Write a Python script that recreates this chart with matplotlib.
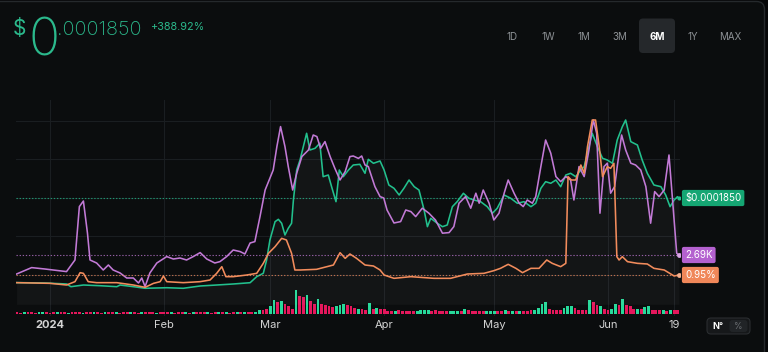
import numpy as np
import pandas as pd
import matplotlib
matplotlib.use("Agg")
import matplotlib.pyplot as plt
from matplotlib.patches import FancyBboxPatch

plt.rcParams['font.family'] = ['Inter', 'DejaVu Sans']

# ---------------- data ----------------
BASE = "2024-01-01"  # day offsets below are relative to this date

# green: token price, in millionths of a dollar
price_days = [-9.1, -1.4, 4.5, 5.7, 9.1, 13.6, 18.2, 19.1, 22.7, 25.9,
              31.8, 36.3, 40.9, 45.4, 50.0, 54.5, 56.3, 58.1, 59.0, 59.9,
              61.3, 62.2, 63.1, 64.0, 64.9, 65.8, 66.3, 67.2, 68.1, 69.0,
              69.9, 70.8, 72.2, 73.5, 74.4, 75.8, 76.7, 77.9, 78.8, 79.9,
              81.3, 82.6, 84.4, 85.8, 86.7, 88.1, 89.9, 91.0, 92.3, 93.7,
              95.1, 96.4, 97.8, 99.2, 100.5, 101.9, 102.8, 103.7, 105.5, 106.9,
              108.2, 109.6, 110.9, 112.6, 114.1, 115.5, 117.3, 119.1, 120.5, 121.8,
              123.7, 125.5, 127.3, 129.1, 131.0, 132.3, 133.7, 135.0, 136.4, 137.8,
              139.1, 140.5, 141.8, 143.2, 144.6, 145.5, 146.8, 147.7, 149.1, 150.5,
              151.8, 153.2, 154.5, 155.9, 156.8, 158.2, 160.0, 161.3, 162.7, 164.5,
              166.4, 167.7, 168.9, 170.0, 170.9, 171.3]
price_musd = [37.8, 37.1, 35.4, 30.7, 33.6, 32.4, 30.7, 33.6, 30.7, 27.9,
              28.9, 27.9, 31.9, 33.6, 35.4, 37.6, 48.1, 54.0, 77.1, 111.9,
              143.8, 147.9, 141.0, 120.6, 132.3, 141.0, 181.5, 233.7, 251.1, 274.3,
              297.6, 268.5, 271.5, 280.2, 222.1, 225.0, 204.7, 178.6, 233.7, 222.1,
              233.7, 242.4, 243.6, 228.0, 252.3, 245.4, 249.4, 233.7, 207.6, 201.9,
              190.2, 201.9, 216.3, 204.7, 198.9, 164.1, 135.1, 149.7, 141.0, 135.1,
              138.0, 169.9, 178.6, 193.2, 184.5, 181.5, 178.6, 169.9, 158.4, 167.1,
              190.2, 184.5, 175.8, 178.6, 169.9, 175.8, 201.9, 213.4, 210.6, 216.3,
              204.7, 225.0, 228.0, 222.1, 233.7, 239.5, 274.3, 297.6, 274.3, 254.1,
              251.1, 245.4, 285.9, 309.1, 320.7, 283.0, 277.2, 251.1, 228.0, 207.6,
              204.7, 190.2, 169.9, 181.5, 187.3, 185.0]

# purple: second metric, in thousands
metric_days = [-9.1, -5.0, -1.4, 4.5, 6.8, 8.0, 9.1, 10.2, 10.9, 12.7,
               14.5, 15.9, 17.2, 19.1, 20.9, 22.7, 24.1, 25.0, 25.9, 27.2,
               29.1, 31.8, 33.6, 35.4, 37.2, 39.0, 40.9, 42.7, 44.9, 46.3,
               48.1, 49.9, 51.8, 53.1, 54.5, 55.8, 57.2, 58.6, 59.7, 60.8,
               61.8, 62.8, 64.0, 64.9, 66.1, 67.2, 68.6, 70.4, 71.7, 72.7,
               73.7, 74.9, 76.3, 77.6, 79.0, 80.4, 81.7, 82.6, 84.0, 84.9,
               85.8, 86.7, 88.5, 89.9, 90.9, 91.8, 93.7, 95.5, 96.9, 98.3,
               99.6, 101.4, 103.2, 105.0, 106.9, 108.7, 110.0, 111.4, 113.2, 114.6,
               116.0, 116.9, 118.0, 119.6, 120.9, 122.3, 123.7, 124.8, 126.4, 127.8,
               128.9, 130.0, 131.4, 132.3, 133.7, 135.0, 136.4, 137.8, 139.1, 140.5,
               141.8, 142.7, 144.1, 145.5, 146.8, 148.0, 148.9, 149.8, 150.9, 151.8,
               152.7, 153.8, 154.5, 155.7, 156.8, 158.2, 159.5, 160.9, 162.3, 163.6,
               164.7, 165.9, 167.3, 168.6, 169.5, 170.7, 171.3]
metric_k = [1.74, 2.06, 1.99, 1.86, 2.44, 5.11, 5.39, 3.79, 2.44, 2.29,
            1.94, 2.19, 1.94, 1.79, 1.54, 1.54, 1.29, 1.54, 1.11, 1.79,
            2.29, 2.61, 2.49, 2.54, 2.44, 2.61, 2.81, 2.49, 2.29, 2.36,
            2.61, 2.94, 2.86, 2.74, 3.29, 3.36, 4.61, 5.94, 6.44, 6.94,
            8.11, 9.11, 8.11, 7.11, 5.94, 6.78, 7.61, 7.94, 8.69, 8.61,
            8.02, 8.36, 7.61, 7.02, 6.44, 6.86, 7.61, 7.64, 7.52, 7.64,
            7.19, 7.11, 6.11, 5.61, 5.54, 4.94, 4.29, 4.36, 4.94, 4.86,
            4.61, 5.03, 4.78, 4.44, 3.78, 3.81, 4.11, 5.28, 5.61, 5.03,
            5.78, 5.28, 5.94, 5.28, 4.44, 4.78, 5.78, 6.44, 5.78, 5.28,
            5.11, 5.44, 5.28, 5.61, 7.11, 8.44, 7.78, 6.61, 6.36, 6.61,
            6.44, 5.44, 7.11, 6.61, 7.94, 9.44, 8.78, 4.78, 7.11, 7.28,
            5.78, 6.11, 7.11, 8.69, 7.94, 7.28, 7.19, 6.94, 6.11, 4.28,
            5.86, 5.61, 5.94, 7.69, 5.61, 2.78, 2.69]

# orange: percentage metric
pct_days = [-9.1, 0.0, 4.5, 6.8, 8.2, 9.1, 10.4, 12.7, 18.2, 22.7,
            25.9, 28.2, 30.0, 30.9, 31.8, 36.3, 40.9, 43.6, 45.4, 46.8,
            47.9, 49.9, 53.6, 56.3, 58.1, 59.5, 61.3, 63.1, 64.4, 65.8,
            66.7, 68.1, 72.6, 77.2, 79.0, 80.4, 81.7, 83.5, 85.8, 88.1,
            89.9, 91.0, 93.7, 98.3, 104.6, 109.1, 113.7, 118.2, 120.9, 122.7,
            124.8, 126.9, 128.7, 131.0, 133.2, 135.3, 136.8, 139.1, 140.5, 141.1,
            142.0, 143.2, 144.6, 145.5, 146.4, 147.7, 148.6, 149.6, 150.5, 151.8,
            152.7, 153.6, 154.4, 155.0, 155.9, 157.3, 160.0, 162.7, 164.5, 167.3,
            170.0, 171.3]
pct_values = [0.72, 0.70, 0.65, 0.75, 1.02, 1.00, 0.75, 0.72, 0.72, 0.65,
              0.58, 0.70, 0.75, 0.92, 0.75, 0.72, 0.75, 0.80, 1.00, 1.20,
              0.90, 0.90, 0.95, 1.00, 1.30, 1.60, 1.80, 2.05, 2.00, 1.60,
              1.10, 1.10, 1.12, 1.25, 1.62, 1.45, 1.58, 1.45, 1.25, 1.22,
              1.10, 0.95, 0.85, 0.90, 0.85, 0.85, 0.98, 1.00, 1.08, 1.15,
              1.27, 1.15, 1.02, 1.15, 1.15, 1.40, 1.30, 1.20, 1.30, 3.90,
              3.80, 3.80, 4.25, 4.00, 4.80, 5.60, 5.60, 4.80, 3.90, 4.20,
              4.15, 4.30, 1.50, 1.40, 1.50, 1.35, 1.30, 1.28, 1.15, 1.10,
              0.92, 0.95]

# daily volume bars starting 2023-12-23 (u = up day, d = down day)
vol_start = "2023-12-23"
vol_values = [1.2, 1.0, 1.4, 1.1, 1.3, 1.0, 1.2, 1.5, 1.1, 1.0,
              1.3, 1.2, 1.1, 1.4, 1.0, 1.2, 1.3, 1.1, 1.0, 1.2,
              1.4, 1.1, 1.2, 1.0, 1.3, 1.1, 1.2, 1.5, 1.0, 1.1,
              1.2, 1.3, 1.1, 1.0, 1.2, 1.4, 1.1, 1.2, 1.0, 1.3,
              1.1, 1.2, 1.4, 1.0, 1.1, 1.3, 1.2, 1.0, 1.1, 1.2,
              1.5, 1.1, 1.2, 1.0, 1.3, 1.2, 1.1, 1.4, 1.0, 1.2,
              1.3, 1.1, 1.2, 1.4, 1.6, 2.0,
              4, 4, 5, 7.3, 14, 11.7, 12.3, 9.3, 7.3, 5,
              24, 17.3, 16.7, 18.3, 12.3, 10, 15, 10, 9, 7.3,
              6.7, 7.3, 9, 10, 9, 7.3, 6, 5, 5, 4,
              10.7, 5, 6, 5, 4.3,
              3, 3, 3, 3.3, 3, 2.7, 3, 3, 3, 3.3,
              4, 4, 3, 3.3, 3, 2.7, 3, 2.7, 3, 3,
              3, 5, 3.3, 3, 3, 2.7, 3, 2.7, 2.7, 3,
              3, 3, 3.3, 3, 2.7, 3, 2.7, 3, 3, 3.3,
              4, 6, 10, 11.7, 5, 4, 3.5, 3.3, 6, 7.3,
              7.3, 6, 4, 4, 4, 13.3, 12, 8.3, 7.3, 5,
              4, 5, 9.3, 8.3, 15, 8.3, 7.3, 5, 5, 5,
              6.7, 7.3, 4, 4, 3.3, 3.3, 3, 4, 3.3, 4]
vol_dirs = ("dduddduudd" "duddudddud" "dudduddudd" "duddudddud" "ddudddudud"
            "dduddududd" "ududdu"
            "udduududdd" "uddudduddd" "duuudddudd" "ududd"
            "dduddddduu" "uuddddduuu" "duddddduuu" "ddudududdd" "uuuudddduu"
            "udddduddud" "duududddud" "uudddududd")

tick_dates = ["2024-01-01", "2024-02-01", "2024-03-01", "2024-04-01",
              "2024-05-01", "2024-06-01", "2024-06-19"]
tick_labels = ["2024", "Feb", "Mar", "Apr", "May", "Jun", "19"]
ranges = ["1D", "1W", "1M", "3M", "6M", "1Y", "MAX"]
selected_range = "6M"
price_big, price_small = "0", ".0001850"
change_text = "+388.92%"
tag_price, tag_metric, tag_pct = "$0.0001850", "2.69K", "0.95%"

# ---------------- styling ----------------
BG = "#0b0d0e"
GREEN = "#22c08d"
PURPLE = "#c27ad6"
ORANGE = "#f28c5c"
UP = "#27d99a"
DOWN = "#e5175c"
GRID = "#1a1e21"
TITLE_G = "#2bb98c"

W, H = 768, 352
L, R, T, B = 16, 680, 100, 316          # plot box in pixels
X_LEFT_DAY, X_RIGHT_DAY = -9.26, 171.6


def to_dates(days):
    return pd.Timestamp(BASE) + pd.to_timedelta(np.asarray(days, float), unit="D")


def px_lim(anchor_val, anchor_px, per_px):
    """y-limits so that anchor_val sits at pixel row anchor_px."""
    return (anchor_val - per_px * (B - anchor_px), anchor_val + per_px * (anchor_px - T))


fig = plt.figure(figsize=(W / 100, H / 100), dpi=100, facecolor="#060708")

# decoration layer (pixel coordinates)
deco = fig.add_axes([0, 0, 1, 1], zorder=-5)
deco.set_xlim(0, W)
deco.set_ylim(H, 0)
deco.axis("off")
deco.add_patch(FancyBboxPatch((-10, 1.5), 774.5, 380, boxstyle="round,pad=0,rounding_size=8",
                              fc=BG, ec="#25292c", lw=1.0))

# title
deco.text(13, 35, "$", fontsize=15, color=TITLE_G, va="baseline", ha="left")
deco.text(28, 55.5, price_big, fontsize=37, color=TITLE_G, va="baseline", ha="left",
          fontweight="light")
deco.text(57, 35, price_small, fontsize=14.3, color=TITLE_G, va="baseline", ha="left",
          fontweight="light")
deco.text(151, 30, change_text, fontsize=7.8, color=TITLE_G, va="baseline", ha="left")

# range buttons
btn_x = [512, 548, 584, 620, 657, 693, 730]
for xb, lab in zip(btn_x, ranges):
    if lab == selected_range:
        deco.add_patch(FancyBboxPatch((639, 18.5), 36, 34.5, boxstyle="round,pad=0,rounding_size=4",
                                      fc="#25282b", ec="none"))
        deco.text(xb, 37, lab, fontsize=7, color="white", ha="center", va="center",
                  fontweight="bold")
    else:
        deco.text(xb, 37, lab, fontsize=7, color="#8d9195", ha="center", va="center")

# N° / % toggle
deco.add_patch(FancyBboxPatch((707, 318), 43, 16, boxstyle="round,pad=0,rounding_size=4",
                              fc="#16181a", ec="#2a2d30", lw=0.8))
deco.add_patch(FancyBboxPatch((729.5, 320), 18, 12, boxstyle="round,pad=0,rounding_size=3",
                              fc="#212427", ec="none"))
deco.text(717.5, 326.5, "N°", fontsize=6.5, color="white", ha="center", va="center",
          fontweight="bold")
deco.text(738.5, 326.5, "%", fontsize=6.2, color="#6d7175", ha="center", va="center")

# ---------------- chart ----------------
rect = [L / W, 1 - B / H, (R - L) / W, (B - T) / H]
ax_v = fig.add_axes(rect)
ax_v.set_facecolor("none")
ax_g = ax_v.twinx()
ax_p = ax_v.twinx()
ax_o = ax_v.twinx()

for a in (ax_v, ax_g, ax_p, ax_o):
    for s in a.spines.values():
        s.set_visible(False)
    a.set_yticks([])
    a.patch.set_visible(False)

ax_v.set_xlim(to_dates([X_LEFT_DAY])[0], to_dates([X_RIGHT_DAY])[0])

# grid
for py in [121, 159, 198, 236, 275]:
    f = (B - py) / (B - T)
    ax_v.plot([0, 1], [f, f], transform=ax_v.transAxes, color=GRID, lw=0.8, zorder=0)
for d in pd.to_datetime(tick_dates):
    ax_v.axvline(d, color=GRID, lw=0.8, zorder=0)

# volume
vol_dates = pd.Timestamp(vol_start) + pd.to_timedelta(np.arange(len(vol_values)), unit="D")
vol_colors = [UP if c == "u" else DOWN for c in vol_dirs]
ax_v.bar(vol_dates, vol_values, width=0.78, color=vol_colors, lw=0, zorder=2)
ax_v.set_ylim(px_lim(0.0, 313.5, 1.0))

# price (green)
pdates = to_dates(price_days)
prices = np.array(price_musd) * 1e-6
ax_g.set_ylim(px_lim(185e-6, 198, 1.74e-6))
ax_g.fill_between(pdates, prices, 0, color="white", alpha=0.035, lw=0)
ax_g.axhline(prices[-1], color=GREEN, lw=0.8, ls=(0, (1.2, 1.6)), alpha=0.75)
ax_g.plot(pdates, prices, color=GREEN, lw=1.15)
ax_g.plot(pdates[-1], prices[-1], "o", ms=3, color=GREEN, mec="none")

# purple metric
mdates_ = to_dates(metric_days)
ax_p.set_ylim(px_lim(2.69, 255, 0.05))
ax_p.axhline(metric_k[-1], color=PURPLE, lw=0.8, ls=(0, (1.2, 1.6)), alpha=0.75)
ax_p.plot(mdates_, metric_k, color=PURPLE, lw=1.15)
ax_p.plot(mdates_[-1], metric_k[-1], "o", ms=3.5, color="#d9a6e6", mec="none")

# orange percentage
odates = to_dates(pct_days)
ax_o.set_ylim(px_lim(0.95, 275, 0.03))
ax_o.axhline(pct_values[-1], color=ORANGE, lw=0.8, ls=(0, (1.2, 1.6)), alpha=0.75)
ax_o.plot(odates, pct_values, color=ORANGE, lw=1.15)
ax_o.plot(odates[-1], pct_values[-1], "o", ms=3.5, color="#f6b08e", mec="none")

# x ticks
ax_v.set_xticks(pd.to_datetime(tick_dates))
ax_v.set_xticklabels(tick_labels)
ax_v.tick_params(axis="x", length=0, pad=3, labelsize=8, colors="#d4d4d4")
ax_v.get_xticklabels()[0].set_fontweight("bold")


# value tags on the right
def tag(ax, y, text, fc):
    ax.text((685 - L) / (R - L), y, text, transform=ax.get_yaxis_transform(),
            ha="left", va="center", fontsize=7, color="white", clip_on=False, zorder=20,
            bbox=dict(boxstyle="round,pad=0.32,rounding_size=0.2", fc=fc, ec="none"))


tag(ax_g, prices[-1], tag_price, "#15a673")
tag(ax_p, metric_k[-1], tag_metric, "#b461cf")
tag(ax_o, pct_values[-1], tag_pct, "#f08759")

fig.savefig("out.png", dpi=100, facecolor=fig.get_facecolor())
